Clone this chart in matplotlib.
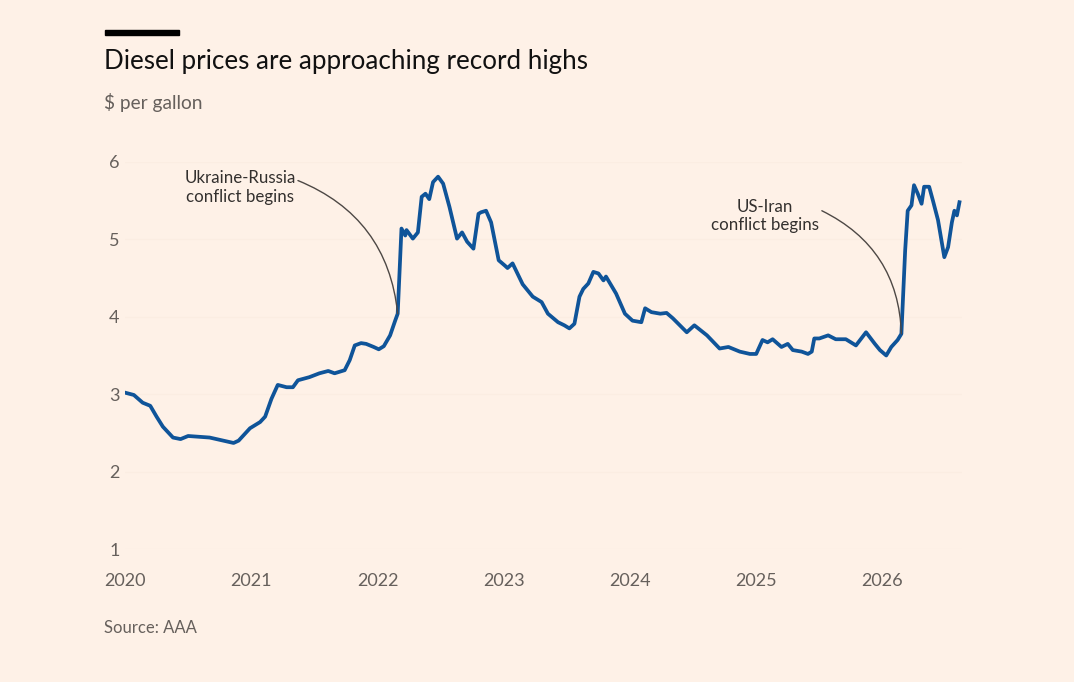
import matplotlib.pyplot as plt
from matplotlib.patches import Rectangle

# Diesel price, $ per gallon (decimal year, value)
years = [2020.00, 2020.07, 2020.14, 2020.20, 2020.25, 2020.30, 2020.38, 2020.44,
         2020.50, 2020.59, 2020.67, 2020.75, 2020.86, 2020.90, 2020.99, 2021.07,
         2021.11, 2021.16, 2021.21, 2021.28, 2021.33, 2021.37, 2021.46, 2021.54,
         2021.61, 2021.66, 2021.74, 2021.78, 2021.82, 2021.87, 2021.91, 2021.97,
         2022.01, 2022.05, 2022.10, 2022.14, 2022.16, 2022.19, 2022.22, 2022.23,
         2022.28, 2022.32, 2022.35, 2022.38, 2022.41, 2022.44, 2022.48, 2022.52,
         2022.57, 2022.63, 2022.67, 2022.71, 2022.76, 2022.80, 2022.82, 2022.86,
         2022.90, 2022.96, 2023.01, 2023.03, 2023.07, 2023.15, 2023.23, 2023.30,
         2023.35, 2023.43, 2023.48, 2023.52, 2023.56, 2023.60, 2023.63, 2023.67,
         2023.71, 2023.75, 2023.79, 2023.81, 2023.89, 2023.96, 2024.02, 2024.09,
         2024.12, 2024.17, 2024.24, 2024.29, 2024.34, 2024.45, 2024.51, 2024.61,
         2024.71, 2024.78, 2024.87, 2024.95, 2025.00, 2025.05, 2025.09, 2025.13,
         2025.20, 2025.25, 2025.29, 2025.36, 2025.41, 2025.44, 2025.46, 2025.50,
         2025.57, 2025.63, 2025.71, 2025.79, 2025.87, 2025.94, 2025.98, 2026.03,
         2026.07, 2026.12, 2026.15, 2026.18, 2026.20, 2026.23, 2026.25, 2026.28,
         2026.31, 2026.33, 2026.37, 2026.40, 2026.44, 2026.49, 2026.52, 2026.55,
         2026.57, 2026.59, 2026.61]
prices = [3.02, 2.99, 2.89, 2.85, 2.71, 2.58, 2.44, 2.42,
          2.46, 2.45, 2.44, 2.41, 2.37, 2.40, 2.56, 2.64,
          2.71, 2.94, 3.12, 3.09, 3.09, 3.18, 3.22, 3.27,
          3.30, 3.27, 3.31, 3.44, 3.63, 3.66, 3.65, 3.61,
          3.58, 3.62, 3.76, 3.95, 4.04, 5.14, 5.05, 5.12,
          5.01, 5.09, 5.55, 5.59, 5.52, 5.74, 5.81, 5.72,
          5.42, 5.01, 5.09, 4.97, 4.88, 5.33, 5.35, 5.37,
          5.22, 4.73, 4.66, 4.63, 4.69, 4.42, 4.26, 4.19,
          4.04, 3.93, 3.89, 3.85, 3.91, 4.26, 4.36, 4.43,
          4.58, 4.56, 4.47, 4.52, 4.30, 4.04, 3.95, 3.93,
          4.11, 4.06, 4.04, 4.05, 3.98, 3.80, 3.89, 3.76,
          3.59, 3.61, 3.55, 3.52, 3.52, 3.70, 3.67, 3.71,
          3.61, 3.65, 3.57, 3.55, 3.52, 3.55, 3.72, 3.72,
          3.76, 3.71, 3.71, 3.63, 3.80, 3.65, 3.57, 3.50,
          3.61, 3.70, 3.78, 4.86, 5.37, 5.44, 5.70, 5.59,
          5.46, 5.68, 5.68, 5.50, 5.25, 4.77, 4.90, 5.22,
          5.37, 5.31, 5.48]

year_ticks = [2020, 2021, 2022, 2023, 2024, 2025, 2026]
price_ticks = [1, 2, 3, 4, 5, 6]

BG = '#fef1e7'
GREY = '#66605c'
TEXT = '#33302e'

plt.rcParams['font.family'] = ['Lato', 'DejaVu Sans']

fig = plt.figure(figsize=(10.74, 6.82), dpi=100, facecolor=BG)
ax = fig.add_axes([0.1164, 0.1950, 0.7793, 0.5675], facecolor=BG)

ax.plot(years, prices, color='#0f5499', lw=2.7, solid_joinstyle='round')

ax.set_xlim(2020, 2026.63)
ax.set_ylim(1, 6)
ax.set_xticks(year_ticks)
ax.set_xticklabels([str(y) for y in year_ticks])
ax.set_yticks(price_ticks)
ax.tick_params(length=0, labelsize=13, colors=GREY)
ax.tick_params(axis='x', pad=17)
ax.tick_params(axis='y', pad=4)
ax.grid(axis='y', color='#fbede2', lw=1)
for s in ax.spines.values():
    s.set_visible(False)

# annotations
ax.text(2020.91, 5.67, 'Ukraine-Russia\nconflict begins', ha='center', va='center',
        fontsize=12.2, color=TEXT, linespacing=1.2)
ax.annotate('', xy=(2022.16, 4.04), xytext=(2021.37, 5.76),
            arrowprops=dict(arrowstyle='-', color='#4d4845', lw=1,
                            connectionstyle='arc3,rad=-0.3', shrinkA=0, shrinkB=0))
ax.text(2025.07, 5.30, 'US-Iran\nconflict begins', ha='center', va='center',
        fontsize=12.2, color=TEXT, linespacing=1.2)
ax.annotate('', xy=(2026.15, 3.78), xytext=(2025.52, 5.37),
            arrowprops=dict(arrowstyle='-', color='#4d4845', lw=1,
                            connectionstyle='arc3,rad=-0.3', shrinkA=0, shrinkB=0))

# title block
fig.patches.append(Rectangle((105 / 1074, 1 - 35 / 682), 74 / 1074, 5 / 682,
                             transform=fig.transFigure, color='black'))
fig.text(104 / 1074, 1 - 62 / 682, 'Diesel prices are approaching record highs',
         fontsize=18.7, color='#111111', va='center')
fig.text(104 / 1074, 1 - 102 / 682, '$ per gallon', fontsize=13.8, color=GREY, va='center')
fig.text(104 / 1074, 1 - 628 / 682, 'Source: AAA', fontsize=12, color=GREY, va='center')

fig.savefig('out.png', dpi=100, facecolor=BG)
